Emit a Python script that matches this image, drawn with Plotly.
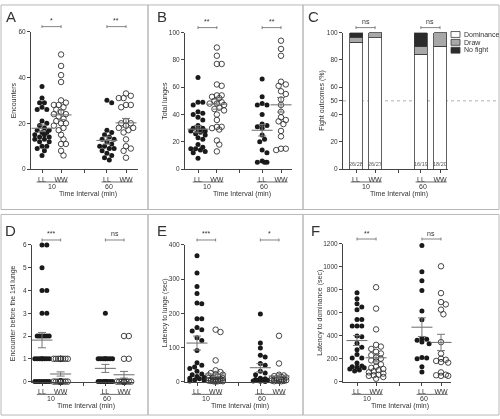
import numpy as np
import plotly.graph_objects as go

W, H = 500, 419

# ---------------- data ----------------
groups = ["LL", "WW", "LL", "WW"]
intervals = ["10", "60"]

# A: Encounters
A_LL10 = [36, 31, 29, 29, 27, 26, 26, 21, 20, 19, 18, 17, 17, 16, 16, 15, 15, 14, 14, 13, 13, 12, 12, 10, 10, 9, 8, 6]
A_WW10 = [50, 45, 41, 38, 30, 29, 28, 28, 27, 26, 25, 24, 24, 23, 22, 21, 20, 20, 19, 18, 17, 15, 13, 11, 11, 8, 6]
A_LL60 = [30, 29, 17, 16, 15, 14, 13, 13, 12, 11, 10, 10, 9, 9, 8, 7, 6, 5, 4]
A_WW60 = [33, 32, 31, 31, 28, 28, 27, 21, 20, 20, 19, 18, 18, 17, 16, 13, 10, 9, 8, 5]

# B: Total lunges
B_LL10 = [67, 49, 49, 47, 42, 41, 40, 38, 36, 32, 30, 30, 29, 28, 28, 27, 26, 25, 23, 22, 18, 16, 15, 15, 14, 13, 12, 8]
B_WW10 = [89, 83, 77, 77, 62, 61, 54, 54, 53, 52, 50, 49, 48, 48, 47, 45, 44, 43, 40, 36, 31, 31, 30, 29, 21, 18, 13]
B_LL60 = [66, 53, 48, 47, 47, 40, 33, 32, 31, 30, 25, 22, 20, 14, 12, 6, 5, 5, 5]
B_WW60 = [94, 88, 83, 64, 62, 61, 57, 55, 51, 47, 42, 38, 36, 35, 33, 28, 24, 15, 15, 14]

# C: Fight outcomes (counts)
C_dominance = [26, 26, 16, 18]
C_draw = [1, 1, 1, 2]
C_nofight = [1, 0, 2, 0]

# D: Encounter before the 1st lunge
D_LL10 = [6, 6, 5, 4, 4, 3, 3, 2, 2, 2, 2, 2, 2, 1, 1, 1, 1, 1, 1, 1, 1, 0, 0, 0, 0, 0, 0, 0]
D_WW10 = [1, 1, 1, 1, 1, 1, 1, 1, 1, 0, 0, 0, 0, 0, 0, 0, 0, 0, 0, 0, 0, 0, 0, 0, 0, 0, 0]
D_LL60 = [3, 1, 1, 1, 1, 1, 1, 1, 1, 0, 0, 0, 0, 0, 0, 0, 0, 0, 0]
D_WW60 = [2, 2, 1, 1, 0, 0, 0, 0, 0, 0, 0, 0, 0, 0, 0, 0, 0, 0, 0, 0]

# E: Latency to lunge (sec)
E_LL10 = [368, 318, 278, 258, 230, 228, 184, 184, 158, 152, 148, 128, 120, 91, 55, 48, 43, 38, 30, 22, 20, 15, 12, 10, 8, 5, 3, 2]
E_WW10 = [152, 145, 62, 33, 28, 25, 22, 20, 18, 15, 12, 10, 10, 8, 8, 6, 5, 5, 4, 3, 3, 2, 2, 1, 1, 1, 0]
E_LL60 = [198, 113, 98, 77, 72, 53, 48, 30, 25, 20, 10, 8, 6, 5, 4, 3, 2, 1, 0]
E_WW60 = [134, 53, 20, 18, 16, 14, 12, 10, 9, 8, 7, 6, 5, 4, 3, 3, 2, 2, 1, 1]

# F: Latency to dominance (sec)
F_LL10 = [774, 722, 679, 650, 627, 541, 541, 484, 484, 484, 398, 390, 335, 300, 278, 235, 206, 206, 163, 135, 130, 125, 120, 110, 100, 92]
F_WW10 = [822, 636, 455, 320, 305, 285, 260, 245, 230, 210, 200, 185, 175, 150, 130, 120, 110, 100, 90, 80, 70, 60, 55, 50, 40, 25]
F_LL60 = [1186, 957, 880, 794, 616, 540, 378, 370, 360, 345, 330, 210, 205, 200, 130, 83]
F_WW60 = [1005, 771, 693, 673, 627, 587, 344, 244, 200, 190, 180, 170, 165, 80, 60, 55, 50, 50]

y_titles = {"A": "Encounters", "B": "Total lunges", "C": "Fight outcomes (%)",
            "D": "Encounter before the 1st lunge", "E": "Latency to lunge (sec)",
            "F": "Latency to dominance (sec)"}
y_ticks = {"A": [0, 20, 40, 60], "B": [0, 20, 40, 60, 80, 100], "C": [0, 20, 40, 50, 60, 80, 100],
           "D": [0, 1, 2, 3, 4, 5, 6], "E": [0, 100, 200, 300, 400], "F": [0, 200, 400, 600, 800, 1000, 1200]}
significance = {"A": ["*", "**"], "B": ["**", "**"], "C": ["ns", "ns"],
                "D": ["***", "ns"], "E": ["***", "*"], "F": ["**", "ns"]}
x_title = "Time Interval (min)"
legend_names = ["Dominance", "Draw", "No fight"]

series = {
    "A": [A_LL10, A_WW10, A_LL60, A_WW60],
    "B": [B_LL10, B_WW10, B_LL60, B_WW60],
    "D": [D_LL10, D_WW10, D_LL60, D_WW60],
    "E": [E_LL10, E_WW10, E_LL60, E_WW60],
    "F": [F_LL10, F_WW10, F_LL60, F_WW60],
}

# ---------------- layout geometry (pixels) ----------------
pos = [1.0, 2.0, 4.4, 5.4]
mid = 3.2
geo = {
    "A": dict(x0=31, x1=138, p1=42, p4=126, ytop=28, ybot=168, lx=11, ly=13, tx=13),
    "B": dict(x0=185, x1=292, p1=198, p4=281, ytop=29, ybot=168, lx=162, ly=13, tx=165),
    "C": dict(x0=343, x1=448, p1=356, p4=440, ytop=29, ybot=168, lx=313, ly=13, tx=322),
    "D": dict(x0=32, x1=134, p1=42, p4=124, ytop=245, ybot=384, lx=10, ly=230, tx=13),
    "E": dict(x0=185, x1=288, p1=197, p4=279, ytop=245, ybot=384, lx=162, ly=230, tx=165),
    "F": dict(x0=343, x1=451, p1=357, p4=441, ytop=244, ybot=384, lx=315, ly=230, tx=320),
}

FONT = "Liberation Sans, Arial, Helvetica, sans-serif"
TXT = "#333333"
AX = "#444444"


def swarm(vals, ppu_y, ppu_x, d=4.8, maxw=7.3):
    vals = np.asarray(vals, float)
    ypx = vals * ppu_y
    order = np.argsort(-ypx, kind="stable")
    step = d / 2
    cands = [0.0]
    k = 1
    while k * step <= maxw + 1e-9:
        cands += [k * step, -k * step]
        k += 1
    placed = []
    offs = np.zeros(len(vals))
    for i in order:
        chosen = None
        best_c, best_s = 0.0, -1.0
        for c in cands:
            md = min([np.hypot(c - px, ypx[i] - py) for px, py in placed], default=1e9)
            if md >= d:
                chosen = c
                break
            if md > best_s:
                best_s, best_c = md, c
        if chosen is None:
            chosen = best_c
        offs[i] = chosen
        placed.append((chosen, ypx[i]))
    return offs / ppu_x


fig = go.Figure()
axes = {}
annotations = []
shapes = []

# panel frames
frames = [(1, 1, 148, 209), (148, 1, 303, 209), (303, 1, 499, 209),
          (1, 214, 148, 418), (148, 214, 303, 418), (303, 214, 499, 418)]
for (a, b, c, d) in frames:
    shapes.append(dict(type="rect", xref="paper", yref="paper", x0=a / W, x1=c / W,
                       y0=1 - b / H, y1=1 - d / H, line=dict(color="#b8b8b8", width=1)))

for k, key in enumerate("ABCDEF", start=1):
    g = geo[key]
    ymax = y_ticks[key][-1]
    unit = (g["p4"] - g["p1"]) / (pos[3] - pos[0])
    xr = [pos[0] - (g["p1"] - g["x0"]) / unit, pos[0] + (g["x1"] - g["p1"]) / unit]
    sfx = "" if k == 1 else str(k)
    xref, yref = "x" + sfx, "y" + sfx
    ppu_y = (g["ybot"] - g["ytop"]) / ymax

    axes["xaxis" + sfx] = dict(domain=[g["x0"] / W, g["x1"] / W], range=xr, anchor=yref,
                               tickmode="array", tickvals=pos + [mid], ticktext=groups + [""],
                               showline=True, linecolor=AX, linewidth=1, ticks="outside",
                               ticklen=3, tickcolor=AX, tickwidth=1, showgrid=False, zeroline=False,
                               tickfont=dict(size=7, color=TXT, family=FONT), fixedrange=True)
    axes["yaxis" + sfx] = dict(domain=[1 - g["ybot"] / H, 1 - g["ytop"] / H], range=[0, ymax],
                               anchor=xref, tickmode="array", tickvals=y_ticks[key],
                               showline=True, linecolor=AX, linewidth=1, ticks="outside",
                               ticklen=3, tickcolor=AX, tickwidth=1, showgrid=False, zeroline=False,
                               tickfont=dict(size=6.5, color=TXT, family=FONT), fixedrange=True)

    # panel letter
    annotations.append(dict(text=key, x=g["lx"] / W, y=1 - g["ly"] / H, xref="paper", yref="paper",
                            showarrow=False, xanchor="center", yanchor="middle",
                            font=dict(size=15, color=TXT, family=FONT)))
    # y title
    annotations.append(dict(text=y_titles[key], x=g["tx"] / W, y=1 - (g["ytop"] + g["ybot"]) / 2 / H,
                            xref="paper", yref="paper", showarrow=False, textangle=-90,
                            xanchor="center", yanchor="middle", font=dict(size=7, color=TXT, family=FONT)))
    # x group labels, underlines, title
    for i, iv in enumerate(intervals):
        ll, ww = pos[2 * i], pos[2 * i + 1]
        shapes.append(dict(type="line", xref=xref, yref="paper", x0=ll - 0.28, x1=ww + 0.35,
                           y0=1 - (g["ybot"] + 13) / H, y1=1 - (g["ybot"] + 13) / H,
                           line=dict(color=AX, width=0.8)))
        cx = (ll + ww) / 2 + (0 if i == 0 else -0.4)
        annotations.append(dict(text=iv, x=cx, y=1 - (g["ybot"] + 17.5) / H, xref=xref, yref="paper",
                                showarrow=False, xanchor="center", yanchor="middle",
                                font=dict(size=7, color=TXT, family=FONT)))
        # significance bracket
        by = g["ytop"] - 5
        shapes.append(dict(type="line", xref=xref, yref="paper", x0=ll, x1=ww,
                           y0=1 - by / H, y1=1 - by / H, line=dict(color="#666", width=0.8)))
        for xe in (ll, ww):
            shapes.append(dict(type="line", xref=xref, yref="paper", x0=xe, x1=xe,
                               y0=1 - (by - 1.5) / H, y1=1 - (by + 1.5) / H,
                               line=dict(color="#666", width=0.8)))
        annotations.append(dict(text=significance[key][i], x=(ll + ww) / 2, y=1 - (by - 0.5) / H,
                                xref=xref, yref="paper", showarrow=False, xanchor="center",
                                yanchor="bottom", font=dict(size=7, color=TXT, family=FONT)))
    annotations.append(dict(text=x_title, x=((g["x0"] + g["x1"]) / 2 + 3) / W, y=1 - (g["ybot"] + 25) / H,
                            xref="paper", yref="paper", showarrow=False, xanchor="center", yanchor="middle",
                            font=dict(size=7, color=TXT, family=FONT)))

    if key == "C":
        totals = [a + b + c for a, b, c in zip(C_dominance, C_draw, C_nofight)]
        comps = [(C_dominance, "#ffffff"), (C_draw, "#a8a8a8"), (C_nofight, "#2b2b2b")]
        for (cnt, col), nm in zip(comps, legend_names):
            pct = [100.0 * c / t for c, t in zip(cnt, totals)]
            fig.add_trace(go.Bar(x=pos, y=pct, width=13 / unit, name=nm, xaxis=xref, yaxis=yref,
                                 marker=dict(color=col, line=dict(color="#3a3a3a", width=0.8)),
                                 showlegend=False, hoverinfo="skip"))
        for p, dmn, t in zip(pos, C_dominance, totals):
            annotations.append(dict(text=f"{dmn}/{t}", x=p, y=0, xref=xref, yref=yref, yshift=5,
                                    showarrow=False, xanchor="center", yanchor="middle",
                                    font=dict(size=5.5, color="#555", family=FONT)))
        shapes.append(dict(type="line", xref="paper", yref=yref, x0=g["x0"] / W, x1=497 / W,
                           y0=50, y1=50, line=dict(color="#b0b0b0", width=1, dash="dot"), layer="below"))
        # legend (manual)
        for j, ((cnt, col), nm) in enumerate(zip(comps, legend_names)):
            yc = 31 + 8 * j
            shapes.append(dict(type="rect", xref="paper", yref="paper", x0=451 / W, x1=460 / W,
                               y0=1 - (yc - 3) / H, y1=1 - (yc + 3) / H, fillcolor=col,
                               line=dict(color="#3a3a3a", width=0.8)))
            annotations.append(dict(text=nm, x=462 / W, y=1 - yc / H, xref="paper", yref="paper",
                                    showarrow=False, xanchor="left", yanchor="middle",
                                    font=dict(size=7, color=TXT, family=FONT)))
        continue

    data = series[key]
    for gi, vals in enumerate(data):
        offs = swarm(vals, ppu_y, unit)
        xs = pos[gi] + offs
        filled = groups[gi] == "LL"
        if filled:
            mk = dict(symbol="circle", size=5, color="#1a1a1a", line=dict(width=0))
        else:
            mk = dict(symbol="circle-open", size=5.5, color="#333333", line=dict(width=0.9))
        fig.add_trace(go.Scatter(x=xs, y=vals, mode="markers", marker=mk, xaxis=xref, yaxis=yref,
                                 cliponaxis=False, showlegend=False, hoverinfo="skip"))
    for gi, vals in enumerate(data):
        v = np.asarray(vals, float)
        m = v.mean()
        sem = v.std(ddof=1) / np.sqrt(len(v))
        fig.add_trace(go.Scatter(x=[pos[gi]], y=[m], mode="markers", xaxis=xref, yaxis=yref,
                                 marker=dict(symbol="line-ew", size=15, color="#777",
                                             line=dict(color="#777", width=1.1)),
                                 error_y=dict(type="data", array=[sem], visible=True, width=4,
                                              thickness=1, color="#777"),
                                 cliponaxis=False, showlegend=False, hoverinfo="skip"))

fig.update_layout(width=W, height=H, autosize=False, margin=dict(l=0, r=0, t=0, b=0),
                  paper_bgcolor="white", plot_bgcolor="white", showlegend=False,
                  barmode="stack", annotations=annotations, shapes=shapes,
                  font=dict(family=FONT, color=TXT), **axes)

fig.write_html("out.html", config={"displayModeBar": False, "staticPlot": True},
               post_script="document.body.style.margin='0';document.body.style.overflow='hidden';"
                           "document.querySelectorAll('.plotly-graph-div').forEach(function(d){d.style.filter='grayscale(1)';});")
